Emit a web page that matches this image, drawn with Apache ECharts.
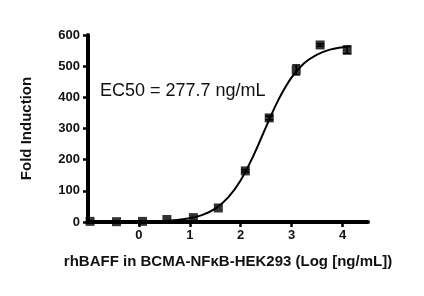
<!DOCTYPE html>
<html><head><meta charset="utf-8">
<script src="https://cdn.jsdelivr.net/npm/echarts@6/dist/echarts.min.js"></script>
<style>html,body{margin:0;padding:0;background:#fff}#c{width:424px;height:296px}</style>
</head><body><div id="c"></div>
<script>
// Measured data points (log ng/mL, fold induction)
const doseLog = [-0.96, -0.44, 0.07, 0.55, 1.07, 1.56, 2.09, 2.56, 3.09, 3.56, 4.09];
const foldInd = [2, 1, 2, 8, 14, 45, 164, 334, 488, 568, 552];
const foldErr = [0, 0, 0, 0, 0, 0, 4, 6, 16, 4, 12];
// Fitted curve
const curveX = [-0.96, -0.5, 0, 0.5, 1, 1.25, 1.5, 1.75, 2, 2.25, 2.5, 2.75, 3, 3.25, 3.5, 3.75, 4, 4.15];
const curveY = [0, 0, 1, 3, 12, 23, 43, 78, 134, 213, 306, 395, 464, 510, 537, 553, 561, 564];
const xTicks = [0, 1, 2, 3, 4];
const yTicks = [0, 100, 200, 300, 400, 500, 600];
const ec50Text = 'EC50 = 277.7 ng/mL';
const xTitle = 'rhBAFF in BCMA-NF\u03BAB-HEK293 (Log [ng/mL])';
const yTitle = 'Fold Induction';

const chart = echarts.init(document.getElementById('c'), null, {renderer: 'canvas'});
const font = 'Liberation Sans, Arial, sans-serif';
chart.setOption({
  animation: false,
  grid: {left: 88, right: 56, top: 35, bottom: 74},
  xAxis: {
    type: 'value', min: -1, max: 4.5, interval: 1,
    name: xTitle, nameLocation: 'middle', nameGap: 32,
    nameTextStyle: {fontFamily: font, fontWeight: 'bold', fontSize: 15, color: '#111'},
    axisLine: {onZero: false, lineStyle: {color: '#000', width: 4}},
    axisTick: {show: true, length: 5, lineStyle: {color: '#000', width: 2.5}, customValues: xTicks},
    axisLabel: {customValues: xTicks, fontFamily: font, fontWeight: 'bold', fontSize: 13, color: '#111', margin: 7},
    splitLine: {show: false}
  },
  yAxis: {
    type: 'value', min: 0, max: 600, interval: 100,
    name: yTitle, nameLocation: 'middle', nameGap: 54, nameRotate: 90,
    nameTextStyle: {fontFamily: font, fontWeight: 'bold', fontSize: 15, color: '#111'},
    axisLine: {show: true, onZero: false, lineStyle: {color: '#000', width: 4}},
    axisTick: {show: true, length: 5, lineStyle: {color: '#000', width: 2.5}},
    axisLabel: {fontFamily: font, fontWeight: 'bold', fontSize: 13, color: '#111', margin: 8},
    splitLine: {show: false}
  },
  graphic: [{
    type: 'text', left: 100, top: 82,
    style: {text: ec50Text, font: '18px ' + font, fill: '#111'}
  }],
  series: [
    {
      type: 'line', data: curveX.map((x, i) => [x, curveY[i]]),
      smooth: 0.4, showSymbol: false, lineStyle: {color: '#000', width: 2}, z: 3
    },
    {
      type: 'custom',
      data: doseLog.map((x, i) => [x, foldInd[i], foldErr[i]]),
      renderItem: function (params, api) {
        const x = api.value(0), y = api.value(1), e = api.value(2);
        if (!e) return null;
        const hi = api.coord([x, y + e]), lo = api.coord([x, y - e]);
        const w = 4;
        return {type: 'group', children: [
          {type: 'line', shape: {x1: hi[0], y1: hi[1], x2: lo[0], y2: lo[1]}, style: {stroke: '#000', lineWidth: 1.5}},
          {type: 'line', shape: {x1: hi[0]-w, y1: hi[1], x2: hi[0]+w, y2: hi[1]}, style: {stroke: '#000', lineWidth: 1.5}},
          {type: 'line', shape: {x1: lo[0]-w, y1: lo[1], x2: lo[0]+w, y2: lo[1]}, style: {stroke: '#000', lineWidth: 1.5}}
        ]};
      },
      z: 4
    },
    {
      type: 'scatter', data: doseLog.map((x, i) => [x, foldInd[i]]),
      symbol: 'rect', symbolSize: 9, itemStyle: {color: '#000'}, z: 5
    }
  ]
});
</script></body></html>
